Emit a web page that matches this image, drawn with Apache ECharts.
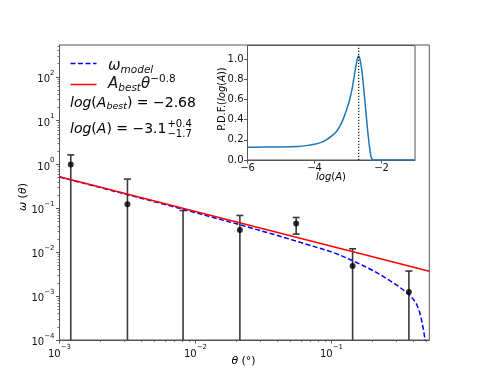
<!DOCTYPE html>
<html><head><meta charset="utf-8">
<script src="https://cdn.jsdelivr.net/npm/echarts@6/dist/echarts.min.js"></script>
<style>html,body{margin:0;padding:0;background:#fff}#c{width:477px;height:382px}</style>
</head><body><div id="c"></div>
<script>
// ---- data ----
const thetaObs = [0.00121, 0.00316, 0.0081, 0.0212, 0.055, 0.143, 0.371];
const omegaObs = [1.0, 0.125, null, 0.032, 0.0453, 0.00485, 0.00124];
const omegaUpper = [1.66, 0.465, 0.0896, 0.069, 0.062, 0.012, 0.00373];
const omegaLower = [0, 0, 0, 0, 0.026, 0, 0]; // 0 = extends below the axis

const powerLaw = [[0.001, 0.527], [0.524, 0.0037]];
const modelCurve = [
  [0.001, 0.52], [0.002, 0.298], [0.005, 0.142], [0.01, 0.080], [0.02, 0.0445],
  [0.04, 0.0242], [0.07, 0.0143], [0.1, 0.0102], [0.1155, 0.0086], [0.142, 0.0065],
  [0.17, 0.0050], [0.203, 0.0038], [0.235, 0.00293], [0.269, 0.00225], [0.31, 0.00168],
  [0.34, 0.00136], [0.37, 0.00110], [0.40, 0.00085], [0.423, 0.00065], [0.445, 0.00043],
  [0.46, 0.00028], [0.475, 0.00017], [0.488, 0.0001], [0.495, 0.00006]
];

const pdfCurve = [
  [-6, 0.127], [-5.5, 0.128], [-5, 0.130], [-4.5, 0.135], [-4.2, 0.145], [-4.0, 0.156],
  [-3.8, 0.175], [-3.65, 0.20], [-3.5, 0.235], [-3.35, 0.28], [-3.25, 0.33], [-3.15, 0.40],
  [-3.05, 0.49], [-2.95, 0.60], [-2.88, 0.70], [-2.83, 0.80], [-2.78, 0.90], [-2.73, 0.99],
  [-2.69, 1.03], [-2.65, 1.01], [-2.6, 0.92], [-2.55, 0.78], [-2.5, 0.60], [-2.45, 0.42],
  [-2.4, 0.25], [-2.35, 0.11], [-2.31, 0.03], [-2.27, 0.005], [-2.2, 0], [-1, 0]
];
const logAbest = -2.68;

const xMajorTicks = [1e-3, 1e-2, 1e-1];
const xMinorTicks = [2e-3,3e-3,4e-3,5e-3,6e-3,7e-3,8e-3,9e-3,2e-2,3e-2,4e-2,5e-2,6e-2,7e-2,8e-2,9e-2,2e-1,3e-1,4e-1,5e-1];
const yMajorTicks = [1e-4, 1e-3, 1e-2, 1e-1, 1, 10, 100];
const yMinorTicks = [];
[1e-4,1e-3,1e-2,1e-1,1,10,100].forEach(d => { for (let k = 2; k <= 9; k++) { if (d*k <= 530) yMinorTicks.push(d*k); } });
const insetXTicks = [-6, -4, -2];
const insetYTicks = [0, 0.2, 0.4, 0.6, 0.8, 1.0];

// ---- chart ----
const F = 'DejaVu Sans';
const AX = '#555';
function powLabel(v) {
  const e = Math.round(Math.log10(v));
  const s = e < 0 ? '\u2212' + (-e) : String(e);
  return '{b|10}{s|' + s + '}';
}
const powRich = {
  b: {fontSize: 10, fontFamily: F, color: '#111', verticalAlign: 'bottom', lineHeight: 15},
  s: {fontSize: 7, fontFamily: F, color: '#111', verticalAlign: 'top', lineHeight: 9}
};

// measure the width of the main part of the second annotation line
const mctx = document.createElement('canvas').getContext('2d');
function tw(font, s) { mctx.font = font; return mctx.measureText(s).width; }
const L2FS = 14;
const line2W = tw('italic ' + L2FS + 'px "' + F + '"', 'log') * 1 + tw('italic ' + L2FS + 'px "' + F + '"', 'A')
  + tw(L2FS + 'px "' + F + '"', '(') + tw(L2FS + 'px "' + F + '"', ') = \u22123.1');

const chart = echarts.init(document.getElementById('c'), null, {renderer: 'canvas'});

const errData = thetaObs.map((t, i) => [t, omegaUpper[i], omegaLower[i]]);
const ptData = thetaObs.map((t, i) => [t, omegaObs[i]]).filter(p => p[1] != null);

const option = {
  animation: false,
  backgroundColor: '#fff',
  grid: [
    {left: 59.5, top: 45, right: 47.7, bottom: 42, show: true, borderColor: AX, borderWidth: 1},
    {left: 247.5, top: 45.5, right: 62, bottom: 222, show: true, borderColor: AX, borderWidth: 1, backgroundColor: '#fff', z: 5}
  ],
  xAxis: [
    {type: 'log', gridIndex: 0, min: 0.001, max: 0.524, position: 'bottom',
     axisLine: {show: true, lineStyle: {color: AX}}, splitLine: {show: false},
     axisTick: {show: true, length: 3.5, customValues: xMajorTicks, lineStyle: {color: AX}},
     axisLabel: {customValues: xMajorTicks, formatter: powLabel, rich: powRich, margin: 4}},
    {type: 'log', gridIndex: 0, min: 0.001, max: 0.524, position: 'bottom',
     axisLine: {show: false}, splitLine: {show: false}, axisLabel: {show: false},
     axisTick: {show: true, length: 2, customValues: xMinorTicks, lineStyle: {color: AX, width: 0.8}}},
    {type: 'value', gridIndex: 1, min: -6, max: -1, position: 'bottom',
     axisLine: {show: true, lineStyle: {color: AX}}, splitLine: {show: false},
     axisTick: {show: true, length: 3.5, customValues: insetXTicks, lineStyle: {color: AX}},
     axisLabel: {customValues: insetXTicks, fontFamily: F, fontSize: 10, color: '#111', margin: 3,
       formatter: v => (v < 0 ? '\u2212' + (-v) : String(v))}}
  ],
  yAxis: [
    {type: 'log', gridIndex: 0, min: 1e-4, max: 530, position: 'left',
     axisLine: {show: true, lineStyle: {color: AX}}, splitLine: {show: false},
     axisTick: {show: true, length: 3.5, customValues: yMajorTicks, lineStyle: {color: AX}},
     axisLabel: {customValues: yMajorTicks, formatter: powLabel, rich: powRich, margin: 5}},
    {type: 'log', gridIndex: 0, min: 1e-4, max: 530, position: 'left',
     axisLine: {show: false}, splitLine: {show: false}, axisLabel: {show: false},
     axisTick: {show: true, length: 2, customValues: yMinorTicks, lineStyle: {color: AX, width: 0.8}}},
    {type: 'value', gridIndex: 1, min: 0, max: 1.135, position: 'left',
     axisLine: {show: true, lineStyle: {color: AX}}, splitLine: {show: false},
     axisTick: {show: true, length: 3.5, customValues: insetYTicks, lineStyle: {color: AX}},
     axisLabel: {customValues: insetYTicks, fontFamily: F, fontSize: 10, color: '#111', margin: 4,
       formatter: v => v.toFixed(1)}}
  ],
  series: [
    {type: 'custom', name: 'err', xAxisIndex: 0, yAxisIndex: 0, clip: true, z: 3,
     data: errData, encode: {x: 0, y: 1},
     renderItem: function (params, api) {
       const x = api.value(0), hi = api.value(1), lo = api.value(2);
       const top = api.coord([x, hi]);
       const cs = params.coordSys;
       const bot = lo > 0 ? api.coord([x, lo])[1] : cs.y + cs.height;
       const st = {stroke: '#3a3a3a', lineWidth: 1.6};
       const ch = [
         {type: 'line', shape: {x1: top[0], y1: top[1], x2: top[0], y2: bot}, style: st},
         {type: 'line', shape: {x1: top[0] - 3.5, y1: top[1], x2: top[0] + 3.5, y2: top[1]}, style: st}
       ];
       if (lo > 0) ch.push({type: 'line', shape: {x1: top[0] - 3.5, y1: bot, x2: top[0] + 3.5, y2: bot}, style: st});
       return {type: 'group', children: ch};
     }},
    {type: 'line', name: 'model', xAxisIndex: 0, yAxisIndex: 0, data: modelCurve, smooth: false,
     showSymbol: false, clip: true, z: 4,
     lineStyle: {color: '#0000ff', width: 1.5, type: [5, 2.5]}},
    {type: 'line', name: 'power', xAxisIndex: 0, yAxisIndex: 0, data: powerLaw,
     showSymbol: false, clip: true, z: 4, lineStyle: {color: '#ff0000', width: 1.5}},
    {type: 'scatter', name: 'obs', xAxisIndex: 0, yAxisIndex: 0, data: ptData,
     symbolSize: 6, itemStyle: {color: '#000'}, z: 6},
    {type: 'line', name: 'pdf', xAxisIndex: 2, yAxisIndex: 2, data: pdfCurve, smooth: 0.25,
     showSymbol: false, z: 7, lineStyle: {color: '#1f77b4', width: 1.5}},
    {type: 'line', name: 'best', xAxisIndex: 2, yAxisIndex: 2, data: [[logAbest, 0], [logAbest, 1.135]],
     showSymbol: false, z: 8, lineStyle: {color: '#000', width: 1.1, type: [1.2, 1.8]}}
  ],
  graphic: [
    // legend samples
    {type: 'line', shape: {x1: 70.5, y1: 63.5, x2: 96.5, y2: 63.5}, style: {stroke: '#0000ff', lineWidth: 1.5, lineDash: [5, 2.5]}, z: 20},
    {type: 'line', shape: {x1: 70.5, y1: 84.5, x2: 96.5, y2: 84.5}, style: {stroke: '#ff0000', lineWidth: 1.5}, z: 20},
    {type: 'text', x: 108, y: 66, z: 20, style: {
      text: '{w|\u03c9}{sub|model}', textVerticalAlign: 'middle', textAlign: 'left',
      rich: {
        w: {fontSize: 15, fontFamily: F, fontStyle: 'italic', fill: '#111', lineHeight: 22, verticalAlign: 'middle'},
        sub: {fontSize: 10.5, fontFamily: F, fontStyle: 'italic', fill: '#111', lineHeight: 10, verticalAlign: 'bottom', padding: [0, 0, 1, 0]}
      }}},
    {type: 'text', x: 108, y: 84, z: 20, style: {
      text: '{a|A}{sub|best}{a|\u03b8}{sup|\u22120.8}', textVerticalAlign: 'middle', textAlign: 'left',
      rich: {
        a: {fontSize: 15, fontFamily: F, fontStyle: 'italic', fill: '#111', lineHeight: 24, verticalAlign: 'middle'},
        sub: {fontSize: 10.5, fontFamily: F, fontStyle: 'italic', fill: '#111', lineHeight: 10, verticalAlign: 'bottom', padding: [0, 0, 2, 0]},
        sup: {fontSize: 10.5, fontFamily: F, fill: '#111', lineHeight: 10, verticalAlign: 'top', padding: [2, 0, 0, 0]}
      }}},
    {type: 'text', x: 70, y: 103, z: 20, style: {
      text: '{i|log}{r|(}{i|A}{sub|best}{r|) = \u22122.68}', textVerticalAlign: 'middle', textAlign: 'left',
      rich: {
        i: {fontSize: 14, fontFamily: F, fontStyle: 'italic', fill: '#000', lineHeight: 22, verticalAlign: 'middle'},
        r: {fontSize: 14, fontFamily: F, fill: '#000', lineHeight: 22, verticalAlign: 'middle'},
        sub: {fontSize: 9.5, fontFamily: F, fontStyle: 'italic', fill: '#000', lineHeight: 10, verticalAlign: 'bottom', padding: [0, 0, 2, 0]}
      }}},
    {type: 'text', x: 70, y: 129, z: 20, style: {
      text: '{i|log}{r|(}{i|A}{r|) = \u22123.1}', textVerticalAlign: 'middle', textAlign: 'left',
      rich: {
        i: {fontSize: L2FS, fontFamily: F, fontStyle: 'italic', fill: '#000'},
        r: {fontSize: L2FS, fontFamily: F, fill: '#000'}
      }}},
    {type: 'text', x: 70 + line2W + 1, y: 124, z: 20, style: {text: '+0.4', fontSize: 10, fontFamily: F, fill: '#000', textVerticalAlign: 'middle', textAlign: 'left'}},
    {type: 'text', x: 70 + line2W + 1, y: 134, z: 20, style: {text: '\u22121.7', fontSize: 10, fontFamily: F, fill: '#000', textVerticalAlign: 'middle', textAlign: 'left'}},
    // axis titles
    {type: 'text', x: 23.5, y: 197, rotation: Math.PI / 2, z: 20, style: {
      text: '{i|\u03c9} {r|(}{i|\u03b8}{r|)}', textAlign: 'center', textVerticalAlign: 'middle',
      rich: {i: {fontSize: 11, fontFamily: F, fontStyle: 'italic', fill: '#000'}, r: {fontSize: 11, fontFamily: F, fill: '#000'}}}},
    {type: 'text', x: 243.5, y: 361, z: 20, style: {
      text: '{i|\u03b8} {r|(\u00b0)}', textAlign: 'center', textVerticalAlign: 'middle',
      rich: {i: {fontSize: 11, fontFamily: F, fontStyle: 'italic', fill: '#000'}, r: {fontSize: 11, fontFamily: F, fill: '#000'}}}},
    {type: 'text', x: 222.5, y: 99, rotation: Math.PI / 2, z: 20, style: {
      text: '{r|P.D.F.(}{i|log}{r|(}{i|A}{r|))}', textAlign: 'center', textVerticalAlign: 'middle',
      rich: {i: {fontSize: 10, fontFamily: F, fontStyle: 'italic', fill: '#000'}, r: {fontSize: 10, fontFamily: F, fill: '#000'}}}},
    {type: 'text', x: 331, y: 177, z: 20, style: {
      text: '{i|log}{r|(}{i|A}{r|)}', textAlign: 'center', textVerticalAlign: 'middle',
      rich: {i: {fontSize: 10, fontFamily: F, fontStyle: 'italic', fill: '#000'}, r: {fontSize: 10, fontFamily: F, fill: '#000'}}}}
  ]
};
chart.setOption(option);
</script>
</body></html>
